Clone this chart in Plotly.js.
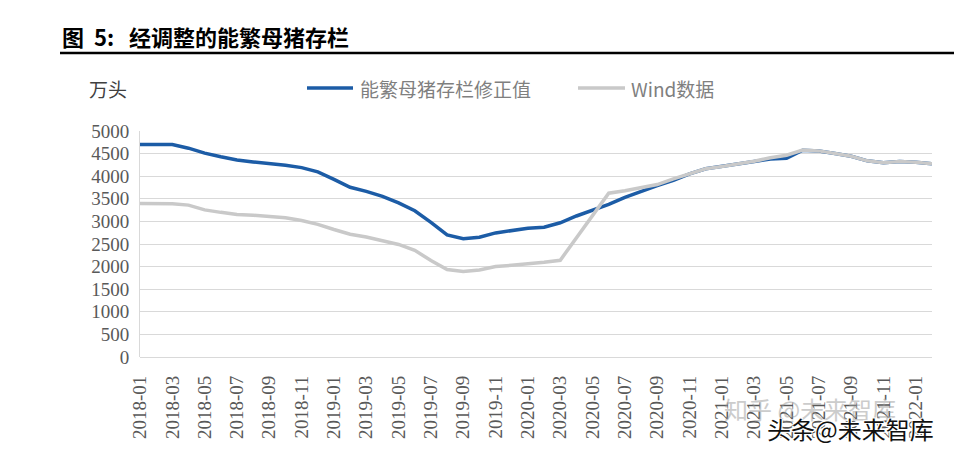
<!DOCTYPE html>
<html>
<head>
<meta charset="utf-8">
<script src="https://cdn.plot.ly/plotly-3.0.1.min.js"></script>
<style>
html,body{margin:0;padding:0;background:#fff;}
#chart{width:954px;height:452px;}
</style>
</head>
<body>
<div id="chart"></div>
<script>
// ---- data ----
var months = [
 '2018-01','2018-02','2018-03','2018-04','2018-05','2018-06','2018-07','2018-08','2018-09','2018-10','2018-11','2018-12',
 '2019-01','2019-02','2019-03','2019-04','2019-05','2019-06','2019-07','2019-08','2019-09','2019-10','2019-11','2019-12',
 '2020-01','2020-02','2020-03','2020-04','2020-05','2020-06','2020-07','2020-08','2020-09','2020-10','2020-11','2020-12',
 '2021-01','2021-02','2021-03','2021-04','2021-05','2021-06','2021-07','2021-08','2021-09','2021-10','2021-11','2021-12',
 '2022-01','2022-02'
];
var adjusted = [
 4700,4700,4700,4620,4510,4430,4360,4315,4285,4240,4190,4095,
 3930,3755,3665,3555,3410,3235,2980,2700,2615,2650,2745,2805,
 2850,2870,2970,3120,3240,3375,3530,3665,3790,3910,4050,4165,
 4215,4260,4325,4380,4395,4575,4555,4500,4440,4340,4300,4325,
 4310,4275
];
var wind = [
 3395,3395,3390,3360,3255,3200,3155,3135,3110,3080,3020,2935,
 2820,2715,2655,2575,2490,2360,2135,1935,1890,1925,2000,2030,
 2055,2095,2140,2635,3130,3625,3680,3740,3815,3940,4055,4165,
 4215,4265,4330,4410,4465,4580,4560,4500,4440,4340,4300,4325,
 4310,4275
];
var seriesNames = ['能繁母猪存栏修正值', 'Wind数据'];
var tickLabels = months.filter(function(m, i){ return i % 2 === 0; });
var titleText = '图\u00a0\u00a05:\u00a0\u00a0\u00a0经调整的能繁母猪存栏';
var unitText = '万头';

// ---- chart ----
var L = 140, R = 932, T = 131, B = 357;
function px(x){ return (x - L) / (R - L); }
function py(y){ return (B - y) / (B - T); }

var cjk = '"Noto Sans CJK SC", "Noto Sans", sans-serif';
var serif = '"Liberation Serif", "DejaVu Serif", serif';
var blue = '#1c5ca6', grey = '#c9c9c9';

var traces = [
 {x: months, y: adjusted, type: 'scatter', mode: 'lines', name: seriesNames[0],
  line: {color: blue, width: 3.5}, hoverinfo: 'skip'},
 {x: months, y: wind, type: 'scatter', mode: 'lines', name: seriesNames[1],
  line: {color: grey, width: 3.5}, hoverinfo: 'skip'}
];

var layout = {
 width: 954, height: 452,
 margin: {l: L, r: 954 - R, t: T, b: 452 - B, pad: 0},
 paper_bgcolor: '#fff', plot_bgcolor: '#fff',
 showlegend: false,
 title: {text: titleText, font: {family: cjk, size: 22, color: '#000', weight: 'bold'},
   xref: 'container', yref: 'container', x: 62/954, xanchor: 'left', y: 1 - 38/452, yanchor: 'middle'},
 xaxis: {type: 'category', tickmode: 'array', tickvals: tickLabels, ticktext: tickLabels,
   tickangle: -90, ticks: '', showgrid: false, showline: false, zeroline: false,
   tickfont: {family: serif, size: 19, color: '#595959'}, ticklabelstandoff: 14,
   fixedrange: true},
 yaxis: {range: [0, 5000], dtick: 500, tick0: 0, showgrid: true, gridcolor: '#d9d9d9', gridwidth: 1,
   zeroline: true, zerolinecolor: '#d9d9d9', zerolinewidth: 1,
   showline: true, linecolor: '#d9d9d9', linewidth: 1, ticks: '',
   tickfont: {family: serif, size: 19, color: '#595959'}, ticklabelstandoff: 6,
   fixedrange: true},
 shapes: [
  {type: 'line', xref: 'paper', yref: 'paper', x0: px(60), x1: px(954), y0: py(53), y1: py(53),
   line: {color: '#000', width: 2.5}},
  {type: 'line', xref: 'paper', yref: 'paper', x0: px(307), x1: px(353), y0: py(88), y1: py(88),
   line: {color: blue, width: 3.5}},
  {type: 'line', xref: 'paper', yref: 'paper', x0: px(578), x1: px(625), y0: py(88), y1: py(88),
   line: {color: grey, width: 3.5}}
 ],
 annotations: [
  {text: unitText, xref: 'paper', yref: 'paper', x: px(87), y: py(88), xanchor: 'left', yanchor: 'middle',
   showarrow: false, font: {family: cjk, size: 19, color: '#404040'}},
  {text: seriesNames[0], xref: 'paper', yref: 'paper', x: px(358), y: py(88), xanchor: 'left', yanchor: 'middle',
   showarrow: false, font: {family: cjk, size: 19, color: '#7f7f7f'}},
  {text: seriesNames[1], xref: 'paper', yref: 'paper', x: px(629), y: py(88), xanchor: 'left', yanchor: 'middle',
   showarrow: false, font: {family: cjk, size: 19, color: '#7f7f7f'}},
  {text: '知乎 @未来智库', xref: 'paper', yref: 'paper', x: px(722), y: py(408), xanchor: 'left', yanchor: 'middle',
   showarrow: false, opacity: 0.5, font: {family: cjk, size: 24, color: '#9a9a9a'}},
  {text: '头条@未来智库', xref: 'paper', yref: 'paper', x: px(765), y: py(428), xanchor: 'left', yanchor: 'middle',
   showarrow: false, font: {family: cjk, size: 24, color: '#111',
   shadow: '1px 1px 0 #fff, -1px -1px 0 #fff, 1px -1px 0 #fff, -1px 1px 0 #fff'}}
 ]
};

Plotly.newPlot('chart', traces, layout, {displayModeBar: false, staticPlot: true});
</script>
</body>
</html>
